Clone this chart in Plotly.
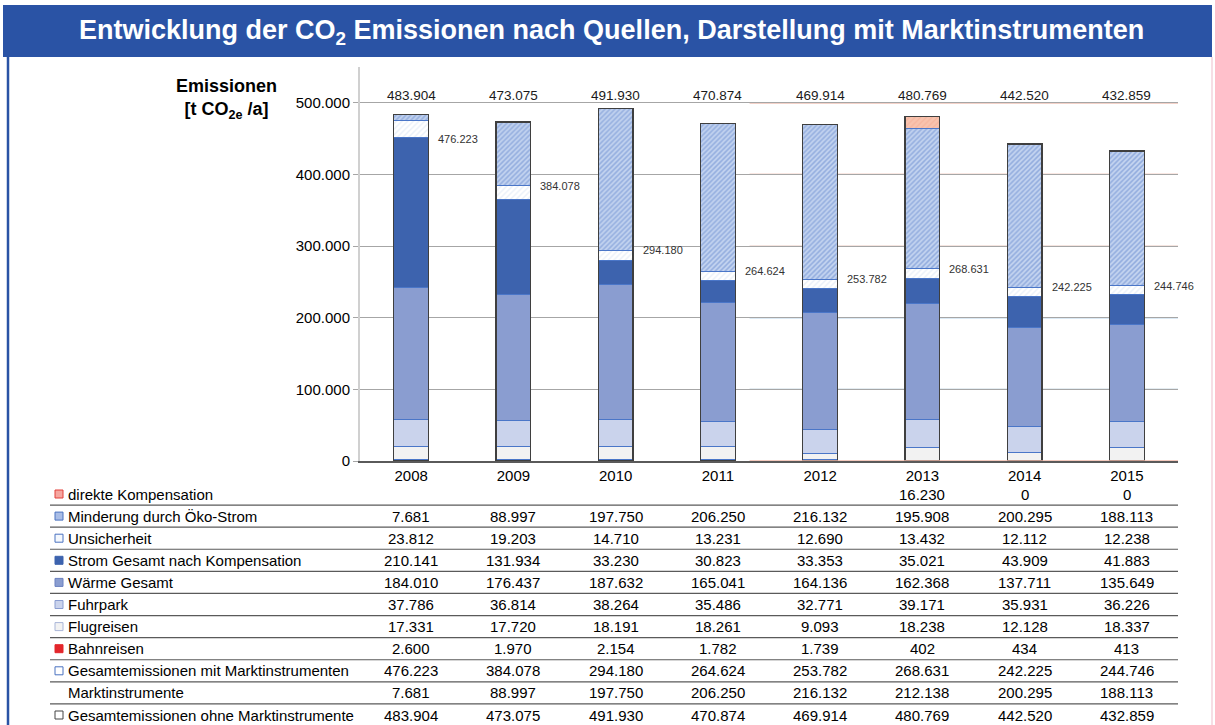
import plotly.graph_objects as go

years = ['2008', '2009', '2010', '2011', '2012', '2013', '2014', '2015']
direkte = [None, None, None, None, None, 16230, 0, 0]
minderung = [7681, 88997, 197750, 206250, 216132, 195908, 200295, 188113]
unsicherheit = [23812, 19203, 14710, 13231, 12690, 13432, 12112, 12238]
strom = [210141, 131934, 33230, 30823, 33353, 35021, 43909, 41883]
waerme = [184010, 176437, 187632, 165041, 164136, 162368, 137711, 135649]
fuhrpark = [37786, 36814, 38264, 35486, 32771, 39171, 35931, 36226]
flug = [17331, 17720, 18191, 18261, 9093, 18238, 12128, 18337]
bahn = [2600, 1970, 2154, 1782, 1739, 402, 434, 413]
gesamt_mit = [476223, 384078, 294180, 264624, 253782, 268631, 242225, 244746]
markt = [7681, 88997, 197750, 206250, 216132, 212138, 200295, 188113]
gesamt_ohne = [483904, 473075, 491930, 470874, 469914, 480769, 442520, 432859]

yticks = [0, 100000, 200000, 300000, 400000, 500000]

FONT = "Arial, Liberation Sans, sans-serif"
W, H = 1215, 725
L, R, T, B = 360, 37, 67, 264
PW = W - L - R
PH = H - T - B


def px2x(px):
    return (px - L) / PW


def py2y(py):
    return (H - B - py) / PH


def de(v):
    return f"{v:,}".replace(",", ".")


BW = 0.34
SEP = '#4a76c8'

fig = go.Figure()

stack = [
    ("Bahnreisen", bahn, dict(color='#e3262b')),
    ("Flugreisen", flug, dict(color='#f2f2f2')),
    ("Fuhrpark", fuhrpark, dict(color='#cad3ec')),
    ("Wärme Gesamt", waerme, dict(color='#8a9dd0')),
    ("Strom Gesamt nach Kompensation", strom, dict(color='#3d63ae')),
    ("Unsicherheit", unsicherheit, dict(color='white', pattern=dict(shape='/', bgcolor='white', fgcolor='#d3e0f2', size=4, solidity=0.35))),
    ("Minderung durch Öko-Strom", minderung, dict(color='#c6d5ef', pattern=dict(shape='/', bgcolor='#c4d4f0', fgcolor='#5f84cc', size=3.5, solidity=0.45))),
    ("direkte Kompensation", direkte, dict(color='#f8c1ab', pattern=dict(shape='/', bgcolor='#f8c3ae', fgcolor='#f2a68e', size=4, solidity=0.3))),
]
for name, vals, mk in stack:
    mk = dict(mk)
    mk['line'] = dict(color=SEP, width=1)
    fig.add_trace(go.Bar(x=years, y=vals, name=name, width=BW, marker=mk,
                         showlegend=False, hoverinfo='skip'))

# outer outline of each bar
fig.add_trace(go.Bar(x=years, y=gesamt_ohne, xaxis='x2', width=BW,
                     marker=dict(color='rgba(0,0,0,0)', line=dict(color='#3f3f3f', width=1.3)),
                     showlegend=False, hoverinfo='skip'))

shapes = []
ann = []

# title bar
shapes.append(dict(type='rect', xref='paper', yref='paper', x0=px2x(3), x1=px2x(1212),
                   y0=py2y(57), y1=py2y(5), fillcolor='#2a53a5', line=dict(width=0), layer='below'))
# left border and right border
shapes.append(dict(type='line', xref='paper', yref='paper', x0=px2x(8), x1=px2x(8),
                   y0=py2y(57), y1=py2y(725), line=dict(color='#2a53a5', width=2.5)))
shapes.append(dict(type='line', xref='paper', yref='paper', x0=px2x(1212), x1=px2x(1212),
                   y0=py2y(57), y1=py2y(725), line=dict(color='#f3d3dc', width=1.5)))

# right region tinted gridlines
rcols = {500000: '#e7a491', 400000: '#e8a08c', 300000: '#e9c9c0', 200000: '#6fa7d2', 100000: '#93b4c6'}
for v, c in rcols.items():
    shapes.append(dict(type='line', xref='x', yref='y', x0=3.31, x1=7.5, y0=v, y1=v,
                       line=dict(color=c, width=1.2), layer='below'))
shapes.append(dict(type='line', xref='x', yref='y', x0=3.31, x1=7.5, y0=0, y1=0,
                   line=dict(color='#f0b8a8', width=1.5), layer='above'))

title = "Entwicklung der CO<sub>2</sub> Emissionen nach Quellen, Darstellung mit Marktinstrumenten"
ann.append(dict(text=f"<b>{title}</b>", xref='paper', yref='paper', x=px2x(611), y=py2y(32),
                showarrow=False, font=dict(family=FONT, size=27, color='white'),
                xanchor='center', yanchor='middle'))
ann.append(dict(text="<b>Emissionen<br>[t CO<sub>2e</sub> /a]</b>", xref='paper', yref='paper',
                x=px2x(226), y=py2y(99), showarrow=False, align='center',
                font=dict(family=FONT, size=18, color='black'), xanchor='center', yanchor='middle'))

# totals above bars
for i, y in enumerate(years):
    ann.append(dict(text=de(gesamt_ohne[i]), x=i, xref='x', yref='paper', y=py2y(95),
                    showarrow=False, font=dict(family=FONT, size=13.5, color='#1a1a1a'),
                    xanchor='center', yanchor='middle'))
    ann.append(dict(text=de(gesamt_mit[i]), x=i, xref='x', yref='y', y=gesamt_mit[i],
                    xshift=25, yshift=(-19 if i == 0 else 0),
                    showarrow=False, font=dict(family=FONT, size=11, color='#333333'),
                    xanchor='left', yanchor='middle'))

# table
rows = [
    ("direkte Kompensation", direkte, dict(fill='#f5a7a0', line='#e2413b')),
    ("Minderung durch Öko-Strom", minderung, dict(fill='#a9bde6', line='#4a72c0')),
    ("Unsicherheit", unsicherheit, dict(fill='#f4f8fd', line='#4a72c0')),
    ("Strom Gesamt nach Kompensation", strom, dict(fill='#3d63ae', line='#3d63ae')),
    ("Wärme Gesamt", waerme, dict(fill='#8a9dd0', line='#6a80c0')),
    ("Fuhrpark", fuhrpark, dict(fill='#cad3ec', line='#8a9dd0')),
    ("Flugreisen", flug, dict(fill='#f2f2f2', line='#a9b6d8')),
    ("Bahnreisen", bahn, dict(fill='#e3262b', line='#e3262b')),
    ("Gesamtemissionen mit Marktinstrumenten", gesamt_mit, dict(fill='white', line='#4a72c0')),
    ("Marktinstrumente", markt, None),
    ("Gesamtemissionen ohne Marktinstrumente", gesamt_ohne, dict(fill='white', line='#444444')),
]
row0 = 494
pitch = 22.1
for r, (label, vals, icon) in enumerate(rows):
    cy = row0 + r * pitch
    ann.append(dict(text=label, xref='paper', yref='paper', x=px2x(66), y=py2y(cy),
                    showarrow=False, font=dict(family=FONT, size=15, color='black'),
                    xanchor='left', yanchor='middle'))
    if icon:
        shapes.append(dict(type='rect', xref='paper', yref='paper', x0=px2x(55), x1=px2x(63),
                           y0=py2y(cy + 4), y1=py2y(cy - 4), fillcolor=icon['fill'],
                           line=dict(color=icon['line'], width=1)))
    for i, y in enumerate(years):
        if vals[i] is None:
            continue
        ann.append(dict(text=de(vals[i]), x=i, xref='x', yref='paper', y=py2y(cy),
                        showarrow=False, font=dict(family=FONT, size=15, color='black'),
                        xanchor='center', yanchor='middle'))
    if r > 0:
        ly = cy - pitch / 2
        shapes.append(dict(type='line', xref='paper', yref='paper', x0=px2x(50), x1=px2x(1178),
                           y0=py2y(ly), y1=py2y(ly), line=dict(color='#5a5a5a', width=1.2)))

fig.update_layout(
    width=W, height=H,
    margin=dict(l=L, r=R, t=T, b=B, pad=0),
    paper_bgcolor='white', plot_bgcolor='white',
    barmode='stack',
    separators=',.',
    font=dict(family=FONT, color='black'),
    shapes=shapes, annotations=ann,
    xaxis=dict(type='category', range=[-0.5, 7.5], showgrid=False, showline=True,
               linecolor='#5a5a5a', linewidth=1.5, ticks='', tickfont=dict(size=15, family=FONT),
               fixedrange=True),
    xaxis2=dict(type='category', range=[-0.5, 7.5], overlaying='x', visible=False),
    yaxis=dict(range=[0, 550000], tickvals=yticks, tickformat=',.0f', showgrid=True,
               gridcolor='#a6a6a6', gridwidth=1, showline=True, linecolor='#d0d0d0', linewidth=2,
               ticks='outside', ticklen=5, tickcolor='#a6a6a6', tickfont=dict(size=15, family=FONT),
               zeroline=False),
)

fig.write_html("out.html", config={'displayModeBar': False},
               post_script="document.body.style.margin='0';document.body.style.overflow='hidden';")
